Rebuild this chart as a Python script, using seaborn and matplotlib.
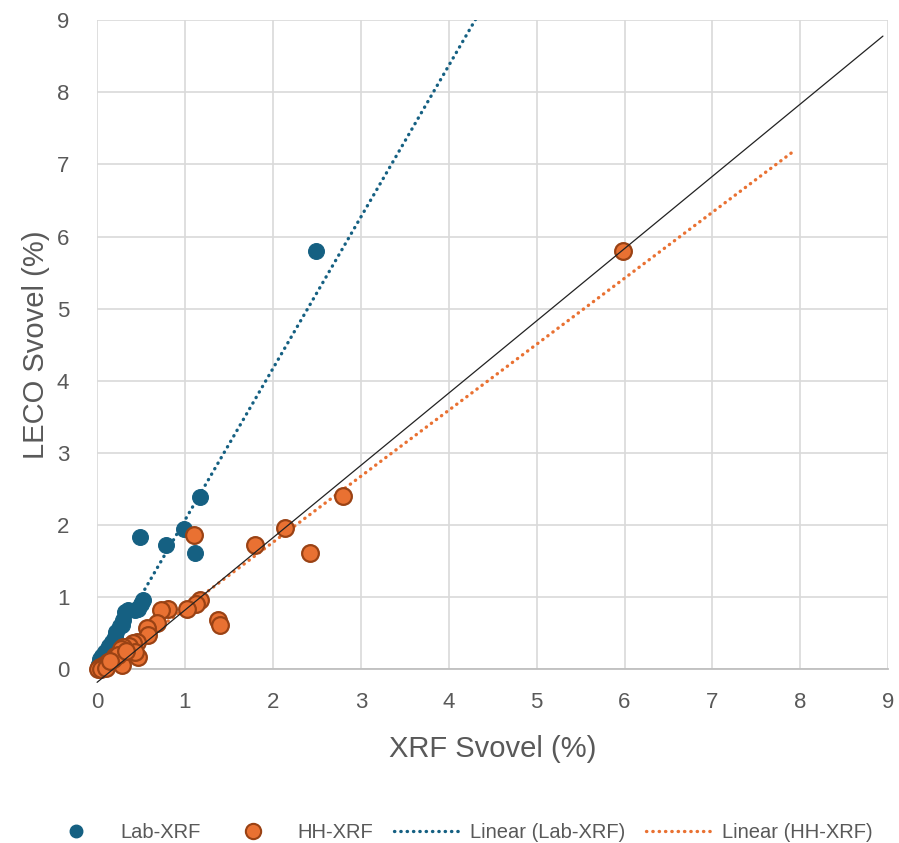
import pandas as pd
import seaborn as sns
from matplotlib import pyplot as plt
from matplotlib.lines import Line2D

# Lab-XRF vs LECO (sulfur %)
lab_x = [2.49, 1.17, 0.99, 0.78, 0.49, 1.11, 0.52, 0.50, 0.47, 0.43, 0.35, 0.32, 0.30,
         0.28, 0.26, 0.22, 0.20, 0.17, 0.14, 0.12, 0.09, 0.06, 0.03, 0.02, 0.01]
lab_y = [5.80, 2.39, 1.94, 1.72, 1.84, 1.61, 0.96, 0.90, 0.84, 0.82, 0.82, 0.79, 0.68,
         0.62, 0.60, 0.52, 0.45, 0.38, 0.32, 0.28, 0.24, 0.19, 0.14, 0.08, 0.03]

# HH-XRF vs LECO
hh_x = [5.98, 2.80, 2.14, 1.80, 2.42, 1.10, 1.17, 1.12, 1.02, 0.81, 0.73, 0.68, 0.57,
        0.58, 1.38, 1.40, 0.45, 0.41, 0.36, 0.30, 0.27, 0.47, 0.43, 0.28, 0.20, 0.18,
        0.12, 0.08, 0.03, 0.01, 0.05, 0.10, 0.24, 0.33, 0.15]
hh_y = [5.80, 2.40, 1.96, 1.73, 1.62, 1.86, 0.96, 0.90, 0.83, 0.83, 0.82, 0.64, 0.57,
        0.47, 0.68, 0.62, 0.38, 0.36, 0.33, 0.31, 0.28, 0.17, 0.24, 0.06, 0.19, 0.14,
        0.10, 0.06, 0.03, 0.00, 0.01, 0.02, 0.20, 0.25, 0.12]

# trendline end points and reference line
lab_trend_x = [0.0, 4.5]
lab_trend_y = [-0.03, 9.42]
hh_trend_x = [0.0, 7.92]
hh_trend_y = [-0.07, 7.18]
ref_x = [0.0, 8.94]
ref_y = [-0.18, 8.78]

TEAL = "#156082"
ORANGE = "#E97132"
ORANGE_EDGE = "#9A4214"
GREY = "#595959"

sns.set_theme(style="whitegrid")
plt.rcParams["font.family"] = ["Liberation Sans Narrow", "Liberation Sans", "DejaVu Sans"]

fig = plt.figure(figsize=(8.99, 8.43), dpi=100)
ax = fig.add_axes([0.108, 0.206, 0.880, 0.770])

df_lab = pd.DataFrame({"x": lab_x, "y": lab_y})
df_hh = pd.DataFrame({"x": hh_x, "y": hh_y})

dotted = (0, (0.1, 1.8))
sns.lineplot(x=lab_trend_x, y=lab_trend_y, ax=ax, color=TEAL, lw=2.4,
             linestyle=dotted, dash_capstyle="round", sort=False, zorder=2)
sns.lineplot(x=hh_trend_x, y=hh_trend_y, ax=ax, color=ORANGE, lw=2.4,
             linestyle=dotted, dash_capstyle="round", sort=False, zorder=2)

sns.scatterplot(data=df_lab, x="x", y="y", ax=ax, color=TEAL, s=130,
                edgecolor=TEAL, linewidth=0.8, zorder=3, clip_on=False)
sns.scatterplot(data=df_hh, x="x", y="y", ax=ax, color=ORANGE, s=145,
                edgecolor=ORANGE_EDGE, linewidth=1.6, zorder=4, clip_on=False)

ax.plot(ref_x, ref_y, color="#222222", lw=0.9, zorder=5, clip_on=False)

ax.set_xlim(0, 9)
ax.set_ylim(0, 9)
ax.set_xticks(range(10))
ax.set_yticks(range(10))
ax.grid(True, color="#d9d9d9", lw=1.2)
for side in ["left", "right", "top"]:
    ax.spines[side].set_visible(False)
ax.spines["bottom"].set_color("#bfbfbf")
ax.spines["bottom"].set_linewidth(1.3)
ax.tick_params(axis="both", labelsize=16, labelcolor=GREY, length=0)
ax.tick_params(axis="x", pad=16)
ax.tick_params(axis="y", pad=20)
ax.set_xlabel("XRF Svovel (%)", fontsize=21, color=GREY, labelpad=16)
ax.set_ylabel("LECO Svovel (%)", fontsize=21, color=GREY, labelpad=5)

handles = [
    Line2D([], [], ls="", marker="o", ms=9, color=TEAL, mec=TEAL),
    Line2D([], [], ls="", marker="o", ms=11, color=ORANGE, mec=ORANGE_EDGE, mew=1.5),
    Line2D([], [], color=TEAL, lw=2.4, ls=dotted, dash_capstyle="round"),
    Line2D([], [], color=ORANGE, lw=2.4, ls=dotted, dash_capstyle="round"),
]
labels = ["Lab-XRF", "HH-XRF", "Linear (Lab-XRF)", "Linear (HH-XRF)"]
leg = fig.legend(handles, labels, loc="lower center", bbox_to_anchor=(0.51, -0.02),
                 ncol=4, frameon=False, fontsize=14.5, handlelength=3.2,
                 columnspacing=1.0, handletextpad=0.6)
for t in leg.get_texts():
    t.set_color(GREY)

fig.savefig("out.png", dpi=100)
